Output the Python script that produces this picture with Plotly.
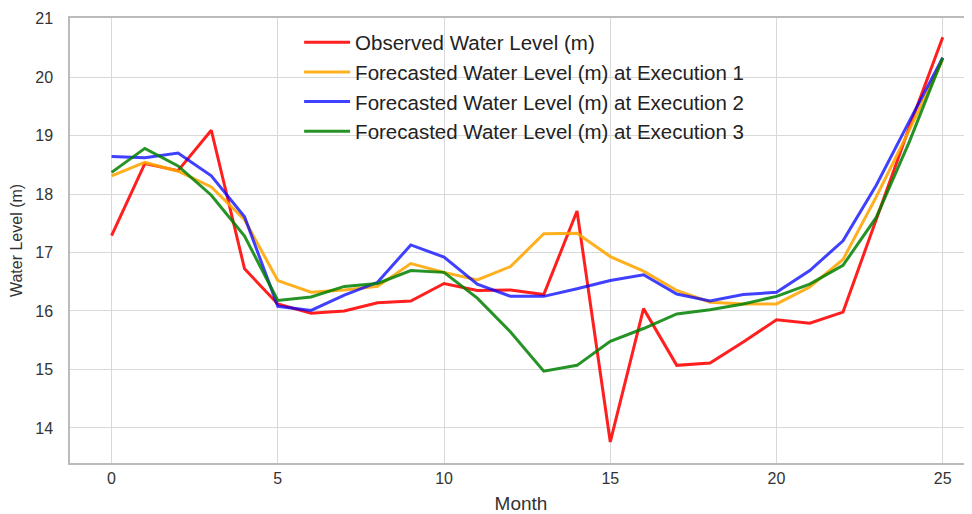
import plotly.graph_objects as go

months = list(range(26))
observed = [17.29, 18.52, 18.40, 19.09, 16.72, 16.12, 15.96, 16.00, 16.14, 16.17, 16.47, 16.35, 16.36,
            16.28, 17.71, 13.76, 16.04, 15.07, 15.11, 15.47, 15.85, 15.79, 15.98, 17.55, 19.15, 20.68]
exec1 = [18.31, 18.54, 18.39, 18.12, 17.56, 16.52, 16.32, 16.36, 16.42, 16.81, 16.66, 16.53, 16.76,
         17.32, 17.33, 16.93, 16.68, 16.35, 16.15, 16.12, 16.12, 16.41, 16.88, 17.95, 19.10, 20.30]
exec2 = [18.64, 18.62, 18.70, 18.31, 17.61, 16.08, 16.01, 16.27, 16.49, 17.13, 16.92, 16.46, 16.25,
         16.25, 16.38, 16.52, 16.62, 16.29, 16.17, 16.28, 16.32, 16.69, 17.20, 18.15, 19.25, 20.33]
exec3 = [18.37, 18.78, 18.48, 17.98, 17.28, 16.18, 16.24, 16.42, 16.47, 16.69, 16.66, 16.22, 15.64,
         14.97, 15.07, 15.48, 15.70, 15.95, 16.02, 16.12, 16.25, 16.46, 16.78, 17.60, 18.90, 20.33]

names = ["Observed Water Level (m)",
         "Forecasted Water Level (m) at Execution 1",
         "Forecasted Water Level (m) at Execution 2",
         "Forecasted Water Level (m) at Execution 3"]
colors = ["rgba(255,0,0,0.88)", "rgba(255,165,0,0.88)", "rgba(0,0,255,0.75)", "rgba(0,128,0,0.85)"]
series = [observed, exec1, exec2, exec3]

fig = go.Figure()
for n, c, s in zip(names, colors, series):
    fig.add_trace(go.Scatter(x=months, y=s, mode="lines", name=n,
                             line=dict(color=c, width=3)))

font = "Liberation Sans, Arial, sans-serif"
fig.update_layout(
    width=964, height=506,
    margin=dict(l=62, r=0, t=10, b=51, autoexpand=False),
    paper_bgcolor="white", plot_bgcolor="white",
    font=dict(family=font, color="#333333", size=16),
    showlegend=True,
    legend=dict(x=0.254, y=0.99, xanchor="left", yanchor="top",
                bgcolor="rgba(0,0,0,0)", font=dict(size=20.5, color="#222222"),
                itemwidth=46, tracegroupgap=0),
    xaxis=dict(range=[-1.25, 25.88], tickmode="array", tickvals=[0, 5, 10, 15, 20, 25],
               showgrid=True, gridcolor="#d9d9d9", gridwidth=1,
               showline=True, linecolor="#bbbbbb", linewidth=1.5, mirror=True,
               zeroline=False, ticks="", tickfont=dict(size=16), ticklabelstandoff=0,
               automargin=False,
               title=dict(text="Month", font=dict(size=19), standoff=12)),
    yaxis=dict(range=[13.40, 21.01], tickmode="array", tickvals=[14, 15, 16, 17, 18, 19, 20, 21],
               showgrid=True, gridcolor="#d9d9d9", gridwidth=1,
               showline=True, linecolor="#bbbbbb", linewidth=1.5, mirror=True,
               zeroline=False, ticks="", tickfont=dict(size=16), ticklabelstandoff=12,
               automargin=False,
               title=dict(text="Water Level (m)", font=dict(size=16), standoff=12)),
)

fig.write_html("out.html")
